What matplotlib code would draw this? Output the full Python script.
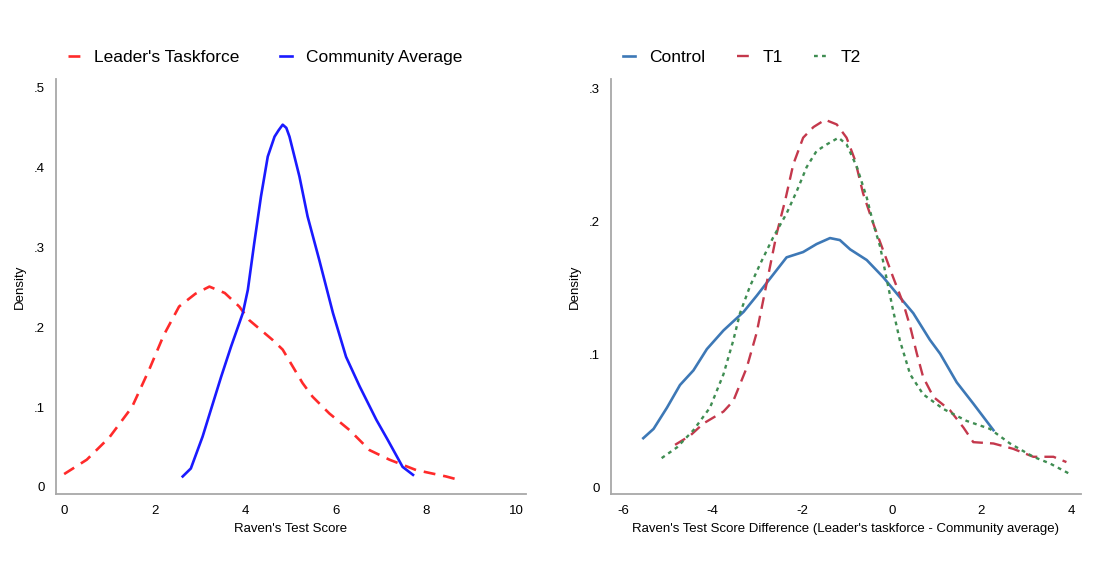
import matplotlib
matplotlib.use("Agg")
import matplotlib.pyplot as plt

plt.rcParams['font.family'] = ['Liberation Sans', 'DejaVu Sans']
plt.rcParams['axes.unicode_minus'] = False

# left panel: Raven's test score densities
leader_x = [0.0, 0.5, 1.0, 1.5, 1.88, 2.2, 2.54, 2.9, 3.21, 3.55, 3.87, 4.09, 4.61, 4.83,
            5.05, 5.27, 5.49, 5.86, 6.31, 6.75, 7.19, 7.78, 8.44, 8.77]
leader_y = [0.016, 0.034, 0.062, 0.10, 0.147, 0.19, 0.226, 0.242, 0.251, 0.243, 0.226,
            0.209, 0.184, 0.172, 0.151, 0.130, 0.113, 0.092, 0.071, 0.046, 0.034, 0.021,
            0.013, 0.008]

comm_x = [2.62, 2.80, 3.06, 3.24, 3.47, 3.69, 3.95, 4.06, 4.20, 4.35, 4.50, 4.65, 4.74,
          4.83, 4.91, 4.98, 5.20, 5.38, 5.64, 5.94, 6.23, 6.53, 6.90, 7.15, 7.48, 7.71]
comm_y = [0.013, 0.023, 0.063, 0.096, 0.138, 0.176, 0.218, 0.247, 0.305, 0.364, 0.414,
          0.439, 0.447, 0.454, 0.450, 0.439, 0.389, 0.339, 0.284, 0.218, 0.163, 0.126,
          0.084, 0.059, 0.025, 0.015]

# right panel: score difference densities by treatment
ctrl_x = [-5.55, -5.32, -5.02, -4.73, -4.43, -4.13, -3.76, -3.31, -3.02, -2.72, -2.35,
          -1.98, -1.68, -1.38, -1.16, -0.93, -0.56, -0.19, 0.18, 0.48, 0.85, 1.08, 1.45,
          1.82, 2.27]
ctrl_y = [0.037, 0.044, 0.060, 0.077, 0.088, 0.104, 0.118, 0.132, 0.144, 0.157, 0.173,
          0.177, 0.183, 0.1875, 0.186, 0.179, 0.171, 0.158, 0.143, 0.131, 0.111, 0.1005,
          0.079, 0.063, 0.043]

t1_x = [-4.84, -4.50, -4.21, -3.76, -3.54, -3.24, -3.02, -2.87, -2.72, -2.57, -2.38,
        -2.20, -1.98, -1.75, -1.49, -1.23, -1.01, -0.82, -0.64, -0.41, -0.19, 0.03, 0.26,
        0.41, 0.56, 0.70, 0.93, 1.30, 1.60, 1.82, 2.27, 2.71, 3.16, 3.61, 3.90]
t1_y = [0.032, 0.039, 0.048, 0.057, 0.065, 0.090, 0.116, 0.141, 0.166, 0.191, 0.216,
        0.243, 0.263, 0.271, 0.2765, 0.273, 0.263, 0.246, 0.221, 0.198, 0.178, 0.158,
        0.138, 0.121, 0.1005, 0.083, 0.068, 0.058, 0.045, 0.034, 0.033, 0.029, 0.023,
        0.023, 0.019]

t2_x = [-5.14, -4.80, -4.43, -4.06, -3.76, -3.54, -3.39, -3.17, -2.94, -2.65, -2.35,
        -2.12, -1.90, -1.68, -1.45, -1.19, -1.01, -0.78, -0.56, -0.41, -0.26, -0.11, 0.03,
        0.18, 0.41, 0.70, 1.15, 1.67, 2.19, 2.64, 3.16, 3.53, 3.98]
t2_y = [0.022, 0.030, 0.043, 0.060, 0.085, 0.1105, 0.131, 0.151, 0.168, 0.188, 0.206,
        0.223, 0.241, 0.253, 0.258, 0.263, 0.258, 0.241, 0.218, 0.198, 0.181, 0.156,
        0.133, 0.1105, 0.085, 0.070, 0.059, 0.050, 0.044, 0.033, 0.023, 0.018, 0.010]

left_xticks = [0, 2, 4, 6, 8, 10]
left_yticks = [0, 0.1, 0.2, 0.3, 0.4, 0.5]
left_ylabels = ["0", ".1", ".2", ".3", ".4", ".5"]
right_xticks = [-6, -4, -2, 0, 2, 4]
right_yticks = [0, 0.1, 0.2, 0.3]
right_ylabels = ["0", ".1", ".2", ".3"]

fig = plt.figure(figsize=(11, 5.69), dpi=100)
ax1 = fig.add_axes([0.0509, 0.1318, 0.427, 0.729])
ax2 = fig.add_axes([0.5555, 0.1318, 0.427, 0.729])

ax1.plot(leader_x, leader_y, color="#ff2a2a", lw=1.9, dashes=(4.5, 3),
         label="Leader's Taskforce")
ax1.plot(comm_x, comm_y, color="#1a1aff", lw=1.9, label="Community Average")
ax1.set_xlim(-0.18, 10.2)
ax1.set_ylim(-0.009, 0.511)
ax1.set_xticks(left_xticks)
ax1.set_yticks(left_yticks)
ax1.set_yticklabels(left_ylabels)
ax1.set_xlabel("Raven's Test Score")

ax2.plot(ctrl_x, ctrl_y, color="#3d78b6", lw=1.9, label="Control")
ax2.plot(t1_x, t1_y, color="#c4384c", lw=1.7, dashes=(5, 3), label="T1")
ax2.plot(t2_x, t2_y, color="#3f8d52", lw=1.7, dashes=(1.6, 1.8), label="T2")
ax2.set_xlim(-6.27, 4.22)
ax2.set_ylim(-0.005, 0.307)
ax2.set_xticks(right_xticks)
ax2.set_yticks(right_yticks)
ax2.set_yticklabels(right_ylabels)
ax2.set_xlabel("Raven's Test Score Difference (Leader's taskforce - Community average)")

for ax, colsp in ((ax1, 2.3), (ax2, 1.8)):
    for s in ("top", "right"):
        ax.spines[s].set_visible(False)
    for s in ("left", "bottom"):
        ax.spines[s].set_color("#a8a8a8")
        ax.spines[s].set_linewidth(1.3)
    ax.tick_params(length=0, labelsize=9.5, pad=8)
    ax.set_ylabel("Density", fontsize=9.5, labelpad=6)
    ax.xaxis.label.set_size(9.5)
    ax.legend(loc="center left", bbox_to_anchor=(0.026, 1.053), ncol=3,
              frameon=False, fontsize=12.5, handlelength=0.7, handletextpad=0.8,
              columnspacing=colsp, borderpad=0, borderaxespad=0)

fig.savefig("out.png", dpi=100)
